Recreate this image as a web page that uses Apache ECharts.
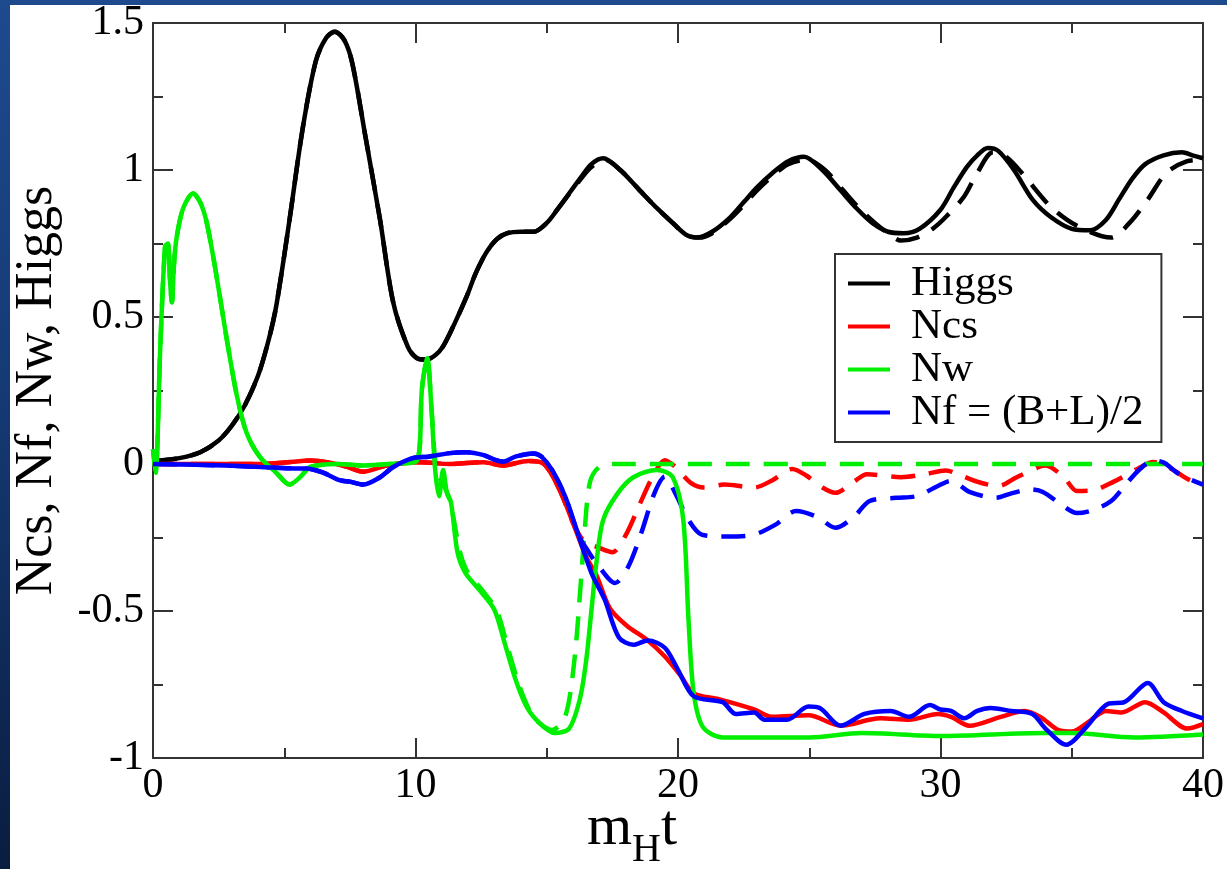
<!DOCTYPE html>
<html>
<head>
<meta charset="utf-8">
<script src="https://cdn.jsdelivr.net/npm/echarts@6/dist/echarts.min.js"></script>
<style>
  html, body { margin: 0; padding: 0; }
  body { width: 1227px; height: 869px; background: linear-gradient(180deg, #1e4a8e 0%, #153a74 45%, #0a1d40 100%); position: relative; overflow: hidden; }
  #chart { position: absolute; left: 10px; top: 5px; width: 1217px; height: 864px; background: #fff; }
</style>
</head>
<body>
<div id="chart"></div>
<script>
// 数据: [m_H t, 值]
const higgs = [[0,0.01],[1,0.02],[1.8,0.04],[2.5,0.08],[3.0,0.13],[3.5,0.2],[4.0,0.3],[4.4,0.42],[4.7,0.54],[5.2,0.83],[5.7,1.14],[6.2,1.37],[6.6,1.45],[6.93,1.47],[7.3,1.44],[7.6,1.36],[8.1,1.11],[8.65,0.83],[9.15,0.55],[9.7,0.40],[10.05,0.36],[10.4,0.355],[10.75,0.37],[11.05,0.40],[11.5,0.48],[11.95,0.57],[12.3,0.65],[12.7,0.72],[13.1,0.765],[13.5,0.785],[14.0,0.79],[14.5,0.79],[15.0,0.82],[15.4,0.865],[16.3,0.975],[16.7,1.02],[17.15,1.04],[17.8,1.0],[18.55,0.93],[19.2,0.87],[19.8,0.82],[20.3,0.78],[20.7,0.77],[21.3,0.79],[22,0.84],[22.5,0.89],[23,0.94],[23.6,0.99],[24.2,1.03],[24.8,1.045],[25.5,1.0],[26.2,0.93],[26.8,0.87],[27.4,0.82],[28.0,0.79],[28.6,0.785],[29.2,0.8],[30,0.865],[30.5,0.94],[31,1.01],[31.4,1.05],[31.8,1.075],[32.2,1.065],[32.8,1.0],[33.5,0.9],[34.2,0.84],[35,0.8],[35.7,0.795],[36.3,0.83],[36.8,0.9],[37.3,0.97],[37.8,1.02],[38.5,1.05],[39.2,1.06],[39.6,1.05],[40,1.04]];
const higgsDash = [[0,0.01],[1,0.02],[1.8,0.04],[2.5,0.08],[3.0,0.13],[3.5,0.2],[4.0,0.3],[4.4,0.42],[4.7,0.54],[5.2,0.83],[5.7,1.14],[6.2,1.37],[6.6,1.45],[6.93,1.47],[7.3,1.44],[7.6,1.36],[8.1,1.11],[8.65,0.83],[9.15,0.55],[9.7,0.40],[10.05,0.36],[10.4,0.355],[10.75,0.37],[11.05,0.40],[11.5,0.48],[11.95,0.57],[12.3,0.65],[12.7,0.72],[13.1,0.765],[13.5,0.785],[14.0,0.79],[14.5,0.79],[15.0,0.82],[15.4,0.865],[16.3,0.97],[16.7,1.01],[17.2,1.035],[17.8,1.0],[18.55,0.93],[19.2,0.87],[19.8,0.82],[20.3,0.78],[20.8,0.77],[21.3,0.785],[22,0.835],[22.5,0.88],[23,0.93],[23.6,0.98],[24.2,1.02],[24.9,1.035],[25.6,1.0],[26.3,0.93],[26.9,0.87],[27.5,0.82],[28.0,0.785],[28.5,0.76],[29.1,0.77],[29.7,0.8],[30.2,0.84],[30.9,0.91],[31.4,0.99],[32,1.06],[32.5,1.045],[33.1,0.99],[34.2,0.875],[35.2,0.81],[36.5,0.77],[37.2,0.82],[37.9,0.9],[38.6,0.99],[39.4,1.03],[40,1.035]];
const ncs = [[0,0],[2,0.0],[4,0.0],[5,0.005],[6,0.012],[6.7,0.005],[7.4,-0.01],[8.0,-0.026],[8.9,-0.005],[10.2,0.006],[11.3,0.0],[12.6,0.006],[13.3,-0.005],[14.3,0.01],[14.9,0.0],[15.5,-0.09],[16.0,-0.2],[16.5,-0.315],[16.9,-0.38],[17.4,-0.49],[18.05,-0.55],[18.85,-0.6],[19.5,-0.655],[20.1,-0.72],[20.6,-0.78],[21.55,-0.8],[22.9,-0.835],[23.6,-0.86],[24.97,-0.855],[26.2,-0.89],[27.7,-0.865],[28.8,-0.87],[29.9,-0.85],[30.4,-0.86],[31.1,-0.89],[32.3,-0.86],[33.2,-0.84],[33.8,-0.86],[34.5,-0.905],[35,-0.91],[35.6,-0.88],[36.3,-0.84],[36.9,-0.845],[37.8,-0.81],[38.5,-0.845],[39.4,-0.9],[40,-0.885]];
const ncsDash = [[0,0],[2,0.0],[4,0.0],[5,0.005],[6,0.012],[6.7,0.005],[7.4,-0.01],[8.0,-0.026],[8.9,-0.005],[10.2,0.006],[11.3,0.0],[12.6,0.006],[13.3,-0.005],[14.3,0.01],[14.9,0.0],[15.5,-0.09],[16.0,-0.2],[16.4,-0.26],[17.0,-0.285],[17.5,-0.30],[18.05,-0.235],[18.55,-0.135],[19.1,-0.032],[19.5,0.013],[19.9,-0.01],[20.5,-0.065],[21.0,-0.08],[21.76,-0.07],[22.9,-0.08],[23.6,-0.055],[24.35,-0.017],[24.9,-0.04],[25.5,-0.08],[26.0,-0.098],[26.7,-0.06],[27.2,-0.035],[28.5,-0.045],[29.4,-0.035],[30.2,-0.022],[30.8,-0.04],[31.5,-0.063],[32.2,-0.075],[32.9,-0.045],[33.8,-0.008],[34.0,-0.005],[34.7,-0.045],[35.2,-0.092],[35.8,-0.09],[36.6,-0.06],[37.5,-0.017],[38.1,0.007],[38.8,-0.017],[39.4,-0.05],[40,-0.075]];
const nw = [[0,0.05],[0.1,-0.03],[0.27,0.38],[0.46,0.74],[0.57,0.75],[0.65,0.62],[0.72,0.55],[0.8,0.68],[0.9,0.77],[1.15,0.87],[1.53,0.92],[1.8,0.89],[2.05,0.82],[2.4,0.65],[2.8,0.43],[3.2,0.23],[3.57,0.105],[4.07,0.024],[4.7,-0.03],[5.2,-0.07],[5.6,-0.045],[6.0,-0.01],[7,0.0],[8,-0.005],[9,0.0],[10.05,0.01],[10.25,0.26],[10.45,0.36],[10.6,0.2],[10.75,-0.02],[10.9,-0.11],[11.05,-0.02],[11.2,-0.1],[11.35,-0.13],[11.6,-0.3],[11.9,-0.37],[12.45,-0.43],[13.0,-0.495],[13.4,-0.61],[13.8,-0.73],[14.2,-0.82],[14.6,-0.87],[15.3,-0.915],[15.85,-0.9],[16.26,-0.8],[16.5,-0.67],[16.7,-0.5],[16.9,-0.33],[17.15,-0.19],[17.7,-0.1],[18.3,-0.045],[19.2,-0.02],[19.8,-0.045],[20.2,-0.19],[20.4,-0.53],[20.6,-0.78],[20.95,-0.895],[21.7,-0.93],[25,-0.93],[27,-0.915],[30,-0.925],[34,-0.915],[35,-0.915],[37.4,-0.93],[40,-0.92]];
const nwDash = [[0,0.05],[0.1,-0.03],[0.27,0.38],[0.46,0.74],[0.57,0.75],[0.65,0.62],[0.72,0.55],[0.8,0.68],[0.9,0.77],[1.15,0.87],[1.53,0.92],[1.8,0.89],[2.05,0.82],[2.4,0.65],[2.8,0.43],[3.2,0.23],[3.57,0.105],[4.07,0.024],[4.7,-0.03],[5.2,-0.07],[5.6,-0.045],[6.0,-0.01],[7,0.0],[8,-0.005],[9,0.0],[10.05,0.01],[10.25,0.26],[10.45,0.36],[10.6,0.2],[10.8,-0.03],[11.0,-0.06],[11.3,-0.12],[11.7,-0.3],[12.0,-0.37],[12.55,-0.43],[13.1,-0.5],[13.5,-0.62],[13.9,-0.74],[14.3,-0.83],[14.7,-0.88],[15.2,-0.905],[15.7,-0.86],[16.05,-0.67],[16.3,-0.4],[16.45,-0.22],[16.65,-0.06],[17.0,-0.01],[17.6,0.0],[40,0.0]];
const nf = [[0,0],[2,-0.003],[4.1,-0.01],[5.4,-0.015],[5.85,-0.015],[6.5,-0.03],[7.1,-0.055],[7.5,-0.06],[8.0,-0.07],[8.65,-0.045],[9.15,-0.01],[9.9,0.02],[10.5,0.025],[11.3,0.037],[11.95,0.04],[12.6,0.03],[13.0,0.015],[13.35,0.008],[13.8,0.025],[14.5,0.036],[14.8,0.025],[15.2,-0.02],[15.7,-0.11],[16.2,-0.24],[16.7,-0.37],[17.2,-0.46],[17.75,-0.59],[18.3,-0.615],[18.85,-0.6],[19.5,-0.625],[20.0,-0.7],[20.6,-0.79],[21.7,-0.81],[22.2,-0.85],[22.9,-0.845],[23.3,-0.87],[24.15,-0.87],[24.97,-0.825],[25.4,-0.83],[26.2,-0.89],[27.1,-0.85],[28.1,-0.84],[28.8,-0.86],[29.6,-0.82],[30.0,-0.835],[30.4,-0.84],[30.9,-0.865],[31.4,-0.84],[31.9,-0.83],[32.7,-0.84],[33.5,-0.85],[34.0,-0.9],[34.8,-0.955],[35.5,-0.9],[36.4,-0.815],[37.0,-0.81],[37.9,-0.745],[38.5,-0.81],[39.2,-0.84],[40,-0.865]];
const nfDash = [[0,0],[2,-0.003],[4.1,-0.01],[5.4,-0.015],[5.85,-0.015],[6.5,-0.03],[7.1,-0.055],[7.5,-0.06],[8.0,-0.07],[8.65,-0.045],[9.15,-0.01],[9.9,0.02],[10.5,0.025],[11.3,0.037],[11.95,0.04],[12.6,0.03],[13.0,0.015],[13.35,0.008],[13.8,0.025],[14.5,0.036],[14.8,0.025],[15.2,-0.02],[15.7,-0.11],[16.2,-0.24],[16.6,-0.3],[17.0,-0.35],[17.6,-0.405],[18.1,-0.35],[18.6,-0.235],[19.1,-0.1],[19.5,-0.043],[19.9,-0.1],[20.4,-0.19],[20.9,-0.24],[21.9,-0.247],[22.9,-0.24],[23.7,-0.207],[24.5,-0.16],[25.3,-0.18],[26.0,-0.217],[26.7,-0.18],[27.3,-0.126],[28.3,-0.115],[29.1,-0.109],[29.9,-0.075],[30.4,-0.057],[31.1,-0.095],[32.1,-0.115],[32.7,-0.1],[33.4,-0.086],[33.9,-0.095],[34.6,-0.138],[35.2,-0.167],[35.8,-0.157],[36.5,-0.126],[37.1,-0.065],[37.6,-0.017],[38.1,0.012],[38.5,0.005],[39.1,-0.035],[40,-0.07]];

const xTicks = { min: 0, max: 40, interval: 10 };
const yTicks = { min: -1, max: 1.5, interval: 0.5 };
const legendNames = ['Higgs', 'Ncs', 'Nw', 'Nf = (B+L)/2'];

const FONT = '"Liberation Serif", "DejaVu Serif", serif';
const axisColor = '#333';

function makeAxis (base, extra) {
    return Object.assign({
        type: 'value',
        min: base.min,
        max: base.max,
        interval: base.interval,
        splitLine: { show: false },
        axisLine: { show: true, onZero: false, lineStyle: { color: axisColor, width: 2 } },
        axisTick: { show: true, inside: true, length: 20, lineStyle: { color: axisColor, width: 2 } },
        minorTick: { show: true, splitNumber: 2, length: 10, lineStyle: { color: axisColor, width: 2 } },
        axisLabel: { show: false }
    }, extra);
}

const labelStyle = { show: true, color: '#000', fontFamily: FONT, fontSize: 42 };

function lineSeries (name, data, color, dashed) {
    return {
        name: name,
        type: 'line',
        data: data,
        showSymbol: false,
        symbol: 'none',
        smooth: 0.3,
        z: dashed ? 2 : 3,
        lineStyle: { color: color, width: 4.5, type: dashed ? [24, 14] : 'solid' },
        itemStyle: { color: color },
        silent: true
    };
}

const chart = echarts.init(document.getElementById('chart'));
chart.setOption({
    animation: false,
    backgroundColor: '#fff',
    grid: { left: 143, top: 18, width: 1050, height: 735, containLabel: false, outerBoundsMode: 'none' },
    xAxis: [
        makeAxis(xTicks, {
            position: 'bottom',
            axisLabel: Object.assign({}, labelStyle, { margin: 7 }),
            name: '{m|m}{s|H}{m|t}',
            nameLocation: 'middle',
            nameMoveOverlap: false,
            nameGap: 42,
            nameTextStyle: {
                padding: [0, 92, 0, 0],
                rich: {
                    m: { fontFamily: FONT, fontSize: 58, color: '#000', verticalAlign: 'bottom' },
                    s: { fontFamily: FONT, fontSize: 40, color: '#000', verticalAlign: 'bottom', padding: [0, 0, -12, 0] }
                }
            }
        }),
        makeAxis(xTicks, { position: 'top' })
    ],
    yAxis: [
        makeAxis(yTicks, {
            position: 'left',
            axisLabel: Object.assign({}, labelStyle, { margin: 9 }),
            name: 'Ncs, Nf, Nw, Higgs',
            nameLocation: 'middle',
            nameMoveOverlap: false,
            nameRotate: 90,
            nameGap: 90,
            nameTextStyle: { fontFamily: FONT, fontSize: 52, color: '#000' }
        }),
        makeAxis(yTicks, { position: 'right' })
    ],
    legend: {
        data: legendNames,
        orient: 'vertical',
        left: 825,
        top: 249,
        padding: [8, 18, 8, 13],
        itemGap: 0,
        itemWidth: 42,
        itemHeight: 4,
        icon: 'rect',
        borderColor: '#333',
        borderWidth: 2,
        borderRadius: 0,
        backgroundColor: '#fff',
        textStyle: { fontFamily: FONT, fontSize: 43, color: '#000', lineHeight: 43, padding: [0, 0, 0, 16] }
    },
    series: [
        lineSeries('Higgs dashed', higgsDash, '#000', true),
        lineSeries('Ncs dashed', ncsDash, '#ff0000', true),
        lineSeries('Nw dashed', nwDash, '#00ee00', true),
        lineSeries('Nf dashed', nfDash, '#0000ff', true),
        lineSeries('Higgs', higgs, '#000', false),
        lineSeries('Ncs', ncs, '#ff0000', false),
        lineSeries('Nw', nw, '#00ee00', false),
        lineSeries('Nf = (B+L)/2', nf, '#0000ff', false)
    ]
});
</script>
</body>
</html>
